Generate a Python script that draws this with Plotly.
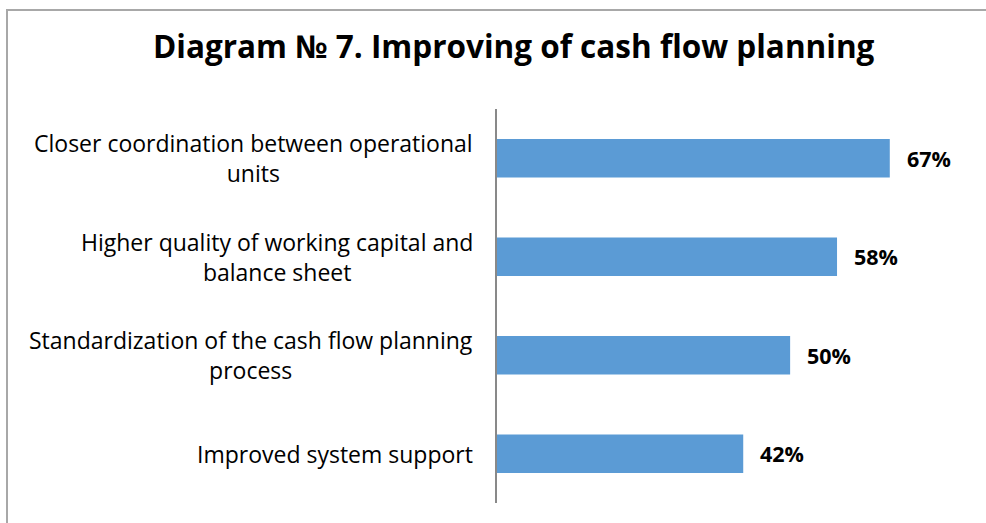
import plotly.graph_objects as go

categories = [
    "Improved system support",
    "Standardization of the cash flow planning<br>process",
    "Higher quality of working capital and<br>balance sheet",
    "Closer coordination between operational<br>units",
]
values = [42, 50, 58, 67]
labels = ["42%", "50%", "58%", "67%"]

FONT = "'Open Sans', sans-serif"
W, H = 986, 523
L, R, T, B = 497, 20, 109, 20
pw, ph = W - L - R, H - T - B

fig = go.Figure(go.Bar(
    x=values, y=categories, orientation="h",
    marker=dict(color="#5b9bd5", line=dict(width=0)),
    width=0.39,
))

for v, c, t in zip(values, categories, labels):
    fig.add_annotation(x=v, y=c, text=f"<b>{t}</b>", showarrow=False,
                       xanchor="left", xshift=15,
                       font=dict(family=FONT, size=21.5, color="black"))
    # category label, centred multi-line block, right edge near the axis
    fig.add_annotation(x=0, xref="paper", y=c, text=c, showarrow=False,
                       xanchor="right", align="center", xshift=-22,
                       font=dict(family=FONT, size=23, color="black"))

fig.update_layout(
    width=W, height=H,
    margin=dict(l=L, r=R, t=T, b=B),
    paper_bgcolor="white", plot_bgcolor="white",
    showlegend=False,
    title=dict(text="<b>Diagram № 7. Improving of cash flow planning</b>",
               x=0.521, xanchor="center", y=0.91, yanchor="middle",
               font=dict(family=FONT, size=31.5, color="black")),
    xaxis=dict(range=[0, 80], visible=False),
    yaxis=dict(showline=True, linecolor="#898989", linewidth=1.5,
               ticks="", showticklabels=False),
    shapes=[dict(type="rect", xref="paper", yref="paper",
                 x0=(7 - L) / pw, x1=1.2, y0=-0.2, y1=(H - B - 10) / ph,
                 line=dict(color="#a8a8a8", width=2), layer="below")],
)

fig.write_html("out.html", config={"displayModeBar": False},
               post_script="document.body.style.margin='0';")
